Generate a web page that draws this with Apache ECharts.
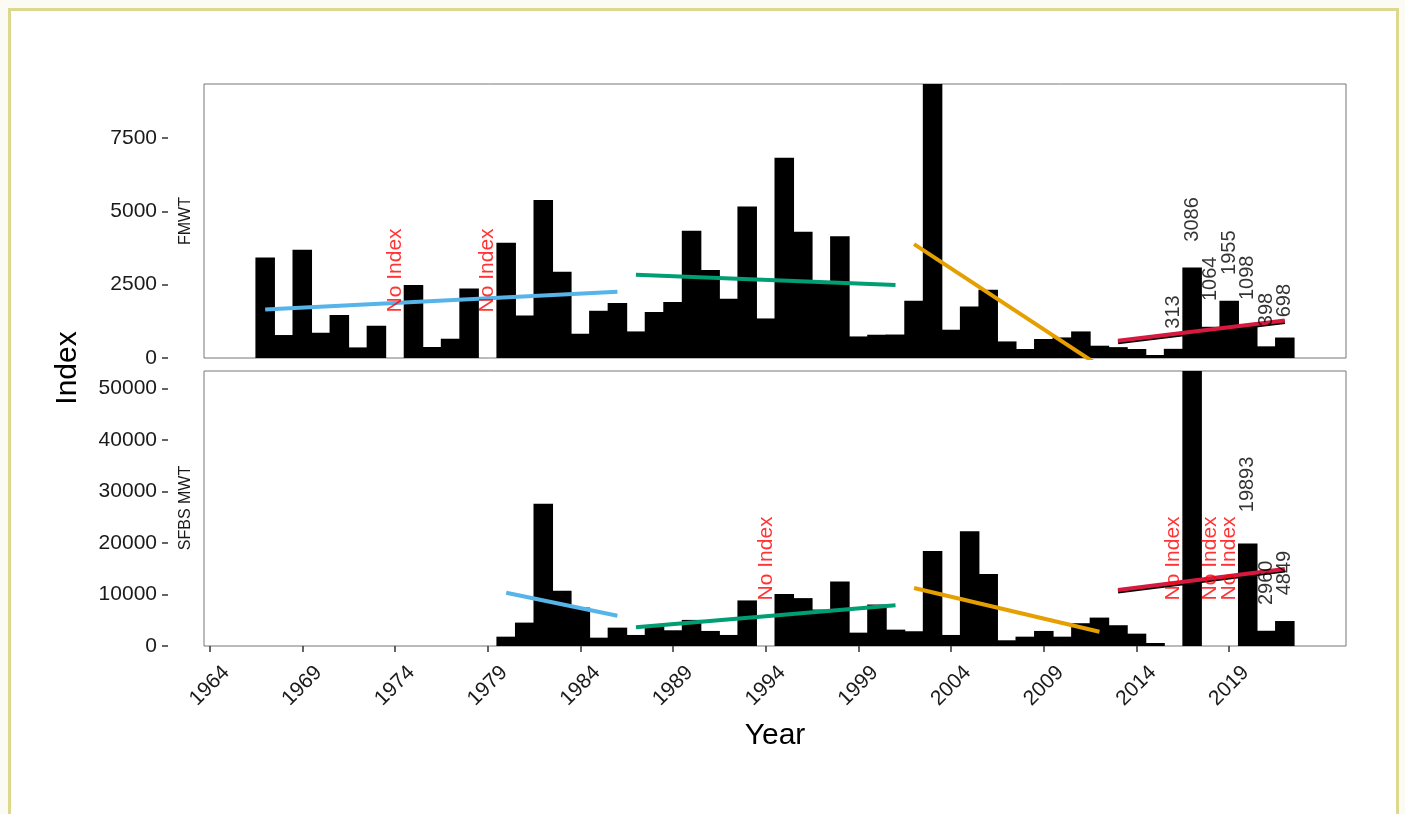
<!DOCTYPE html>
<html><head><meta charset="utf-8">
<script src="https://cdn.jsdelivr.net/npm/echarts@6/dist/echarts.min.js"></script>
<style>
html,body{margin:0;padding:0;background:#fbfbf3;width:1405px;height:814px;overflow:hidden;}
#frame{position:absolute;left:8px;top:8px;width:1385px;height:830px;border:3px solid #dcd98f;border-bottom:none;background:#fff;}
#chart{position:absolute;left:0;top:0;width:1405px;height:814px;}
</style></head><body><div id="frame"></div><div id="chart"></div>
<script>
// ---------- data ----------
const fmwtYears = [1967,1968,1969,1970,1971,1972,1973,1974,1975,1976,1977,1978,1979,1980,1981,1982,1983,1984,1985,1986,1987,1988,1989,1990,1991,1992,1993,1994,1995,1996,1997,1998,1999,2000,2001,2002,2003,2004,2005,2006,2007,2008,2009,2010,2011,2012,2013,2014,2015,2016,2017,2018,2019,2020,2021,2022];
const fmwtValues = [3425,783,3687,861,1464,361,1100,null,2486,375,657,2370,null,3926,1450,5390,2938,827,1610,1873,906,1566,1907,4334,2996,2019,5162,1348,6830,4300,2600,4154,735,793,800,1951,9340,964,1757,2325,565,306,647,701,906,419,370,306,102,313,3086,1064,1955,1098,398,698];
const sfbsYears = [1980,1981,1982,1983,1984,1985,1986,1987,1988,1989,1990,1991,1992,1993,1994,1995,1996,1997,1998,1999,2000,2001,2002,2003,2004,2005,2006,2007,2008,2009,2010,2011,2012,2013,2014,2015,2016,2017,2018,2019,2020,2021,2022];
const sfbsValues = [1813,4542,27620,10721,7466,1618,3567,2144,3900,3054,5068,2924,2144,8850,null,10078,9298,7076,12534,2593,8051,3177,2865,18460,2144,22280,13977,1111,1813,2924,1813,4425,5517,4035,2398,585,null,53400,null,null,19893,2960,4849];

// labelled values
const fmwtLabelYears = [2016,2017,2018,2019,2020,2021,2022];
const fmwtLabelValues = [313,3086,1064,1955,1098,398,698];
const sfbsLabelYears = [2020,2021,2022];
const sfbsLabelValues = [19893,2960,4849];
// "No Index" years
const fmwtNoIndexYears = [1974,1979];
const sfbsNoIndexYears = [1994,2016,2018,2019];

// trend segments [startYear, startValue], [endYear, endValue]
const fmwtTrendBlue = [[1967,1655],[1986,2258]];
const fmwtTrendGreen = [[1987,2837],[2001,2486]];
const fmwtTrendOrange = [[2002,3883],[2012,-270]];
const fmwtTrendRed = [[2013,589],[2022,1281]];
const sfbsTrendBlue = [[1980,10350],[1986,5883]];
const sfbsTrendGreen = [[1987,3631],[2001,7903]];
const sfbsTrendOrange = [[2002,11262],[2012,2777]];
const sfbsTrendRed = [[2013,10874],[2022,14951]];

const xTickYears = [1964,1969,1974,1979,1984,1989,1994,1999,2004,2009,2014,2019];
const fmwtTicks = [0,2500,5000,7500];
const sfbsTicks = [0,10000,20000,30000,40000,50000];
const fmwtMax = 9340, sfbsMax = 53400;
const xMin = 1963.7, xMax = 2025.3;

// ---------- layout / style ----------
const FONT = '"Liberation Sans", Arial, Helvetica, sans-serif';
const gridLeft = 204, gridWidth = 1142;
const barW = gridWidth / (xMax - xMin) + 1;   // +1px overlap so adjacent bars join without seams
const cv = document.createElement('canvas').getContext('2d');
function measure(t, size){ cv.font = size + 'px ' + FONT; return cv.measureText(t).width; }
const plain = v => String(v);

function labelSeries(gi, yrs, vals, texts, color, size){
  return {
    type:'scatter', xAxisIndex:gi, yAxisIndex:gi, symbolSize:1, clip:false, silent:true, z:6,
    itemStyle:{color:'rgba(0,0,0,0)'},
    label:{show:true, position:'top', rotate:90, align:'left', verticalAlign:'middle',
      color:color, fontSize:size, fontFamily:FONT},
    data: yrs.map((y,i)=>({value:[y, vals[i]], label:{formatter:texts[i], distance: 3 + 0.5*measure(texts[i], size)}}))
  };
}
function trend(gi, seg, color, extra){
  return {type:'line', xAxisIndex:gi, yAxisIndex:gi, data:seg, symbol:'none', silent:true, z:4,
    lineStyle:Object.assign({color:color, width:4, cap:'butt'}, extra||{})};
}
function bars(gi, yrs, vals){
  return {type:'bar', xAxisIndex:gi, yAxisIndex:gi, barWidth:barW, barGap:'-100%', silent:true, z:2,
    itemStyle:{color:'#000'}, data: yrs.map((y,i)=>[y, vals[i]])};
}
const redExtra = {shadowColor:'#000', shadowBlur:0, shadowOffsetY:1.5, shadowOffsetX:0};

function yAxis(gi, max, ticks){
  return {type:'value', gridIndex:gi, min:0, max:max, offset:36,
    axisLine:{show:false},
    axisTick:{show:true, length:6, customValues:ticks, lineStyle:{color:'#333', width:1.5}},
    axisLabel:{customValues:ticks, formatter:plain, margin:11, fontSize:21, color:'#1a1a1a', fontFamily:FONT},
    splitLine:{show:false}};
}

const chart = echarts.init(document.getElementById('chart'), null, {renderer:'canvas'});
chart.setOption({
  animation:false,
  backgroundColor:'transparent',
  grid:[
    {left:gridLeft, top:84, width:gridWidth, height:274, show:true, borderColor:'#777', borderWidth:1, backgroundColor:'transparent'},
    {left:gridLeft, top:371, width:gridWidth, height:275, show:true, borderColor:'#777', borderWidth:1, backgroundColor:'transparent'}
  ],
  xAxis:[
    {type:'value', gridIndex:0, min:xMin, max:xMax, axisLine:{show:false}, axisTick:{show:false}, axisLabel:{show:false}, splitLine:{show:false}},
    {type:'value', gridIndex:1, min:xMin, max:xMax, axisLine:{show:false},
      axisTick:{show:true, length:6, customValues:xTickYears, lineStyle:{color:'#333', width:1.5}},
      axisLabel:{customValues:xTickYears, formatter:plain, rotate:45, align:'center', verticalAlign:'middle', margin:40, fontSize:21, color:'#1a1a1a', fontFamily:FONT},
      splitLine:{show:false}}
  ],
  yAxis:[ yAxis(0, fmwtMax, fmwtTicks), yAxis(1, sfbsMax, sfbsTicks) ],
  graphic:[
    {type:'text', x:68, y:368, rotation:Math.PI/2, style:{text:'Index', fontSize:30, fontFamily:FONT, fill:'#000', textAlign:'center', textVerticalAlign:'middle'}},
    {type:'text', x:775, y:736, style:{text:'Year', fontSize:30, fontFamily:FONT, fill:'#000', textAlign:'center', textVerticalAlign:'middle'}},
    {type:'text', x:186, y:221, rotation:Math.PI/2, style:{text:'FMWT', fontSize:16, fontFamily:FONT, fill:'#1a1a1a', textAlign:'center', textVerticalAlign:'middle'}},
    {type:'text', x:186, y:508, rotation:Math.PI/2, style:{text:'SFBS MWT', fontSize:16, fontFamily:FONT, fill:'#1a1a1a', textAlign:'center', textVerticalAlign:'middle'}}
  ],
  series:[
    bars(0, fmwtYears, fmwtValues),
    bars(1, sfbsYears, sfbsValues),
    trend(0, fmwtTrendBlue, '#56B4E9'),
    trend(0, fmwtTrendGreen, '#009E73'),
    trend(0, fmwtTrendOrange, '#E69F00'),
    trend(0, fmwtTrendRed, '#D7193F', redExtra),
    trend(1, sfbsTrendBlue, '#56B4E9'),
    trend(1, sfbsTrendGreen, '#009E73'),
    trend(1, sfbsTrendOrange, '#E69F00'),
    trend(1, sfbsTrendRed, '#D7193F', redExtra),
    labelSeries(0, fmwtLabelYears, fmwtLabelValues, fmwtLabelValues.map(String), '#000', 20),
    labelSeries(1, sfbsLabelYears, sfbsLabelValues, sfbsLabelValues.map(String), '#000', 20),
    labelSeries(0, fmwtNoIndexYears, fmwtNoIndexYears.map(()=>0), fmwtNoIndexYears.map(()=> 'No Index'), '#FF0000', 21),
    labelSeries(1, sfbsNoIndexYears, sfbsNoIndexYears.map(()=>0), sfbsNoIndexYears.map(()=> 'No Index'), '#FF0000', 21)
  ]
});
</script></body></html>
